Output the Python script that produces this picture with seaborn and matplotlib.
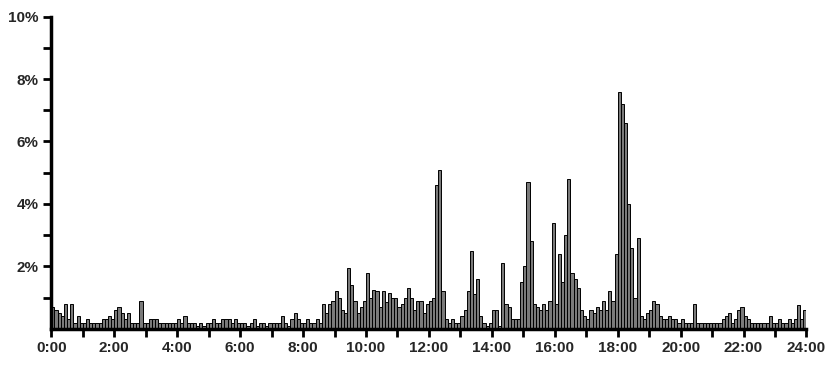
import numpy as np
import pandas as pd
import matplotlib
matplotlib.use("Agg")
import matplotlib.pyplot as plt
from matplotlib.ticker import FixedLocator
import seaborn as sns

# share of events per 6-minute slot (%), one row per hour of the day
hour_00 = [0.7, 0.6, 0.5, 0.4, 0.8, 0.3, 0.8, 0.2, 0.4, 0.2]
hour_01 = [0.2, 0.3, 0.2, 0.2, 0.2, 0.2, 0.3, 0.3, 0.4, 0.3]
hour_02 = [0.6, 0.7, 0.5, 0.3, 0.5, 0.2, 0.2, 0.2, 0.9, 0.2]
hour_03 = [0.2, 0.3, 0.3, 0.3, 0.2, 0.2, 0.2, 0.2, 0.2, 0.2]
hour_04 = [0.3, 0.2, 0.4, 0.2, 0.2, 0.2, 0.1, 0.2, 0.1, 0.2]
hour_05 = [0.2, 0.3, 0.2, 0.2, 0.3, 0.3, 0.3, 0.2, 0.3, 0.2]
hour_06 = [0.2, 0.2, 0.1, 0.2, 0.3, 0.1, 0.2, 0.2, 0.1, 0.2]
hour_07 = [0.2, 0.2, 0.2, 0.4, 0.2, 0.1, 0.3, 0.5, 0.3, 0.2]
hour_08 = [0.2, 0.3, 0.2, 0.2, 0.3, 0.2, 0.8, 0.5, 0.8, 0.9]
hour_09 = [1.2, 1.0, 0.6, 0.5, 1.95, 1.4, 0.9, 0.5, 0.7, 0.9]
hour_10 = [1.8, 1.0, 1.25, 1.2, 0.7, 1.2, 0.85, 1.15, 1.0, 1.0]
hour_11 = [0.7, 0.8, 1.0, 1.3, 1.0, 0.6, 0.9, 0.9, 0.5, 0.8]
hour_12 = [0.9, 1.0, 4.6, 5.1, 1.2, 0.3, 0.2, 0.3, 0.2, 0.2]
hour_13 = [0.4, 0.6, 1.2, 2.5, 1.1, 1.6, 0.4, 0.2, 0.1, 0.2]
hour_14 = [0.6, 0.6, 0.1, 2.1, 0.8, 0.7, 0.3, 0.3, 0.3, 1.5]
hour_15 = [2.0, 4.7, 2.8, 0.8, 0.7, 0.6, 0.8, 0.6, 0.9, 3.4]
hour_16 = [0.8, 2.4, 1.5, 3.0, 4.8, 1.8, 1.6, 1.3, 0.6, 0.4]
hour_17 = [0.3, 0.6, 0.5, 0.7, 0.6, 0.9, 0.6, 1.2, 0.9, 2.4]
hour_18 = [7.6, 7.2, 6.6, 4.0, 2.6, 1.0, 2.9, 0.4, 0.3, 0.5]
hour_19 = [0.6, 0.9, 0.8, 0.4, 0.3, 0.3, 0.4, 0.3, 0.3, 0.2]
hour_20 = [0.3, 0.2, 0.2, 0.2, 0.8, 0.2, 0.2, 0.2, 0.2, 0.2]
hour_21 = [0.2, 0.2, 0.2, 0.3, 0.4, 0.5, 0.2, 0.3, 0.6, 0.7]
hour_22 = [0.4, 0.3, 0.2, 0.2, 0.2, 0.2, 0.2, 0.2, 0.4, 0.2]
hour_23 = [0.2, 0.3, 0.2, 0.2, 0.3, 0.2, 0.3, 0.75, 0.3, 0.6]

hours = [hour_00, hour_01, hour_02, hour_03, hour_04, hour_05, hour_06, hour_07,
         hour_08, hour_09, hour_10, hour_11, hour_12, hour_13, hour_14, hour_15,
         hour_16, hour_17, hour_18, hour_19, hour_20, hour_21, hour_22, hour_23]

y_ticks = [2, 4, 6, 8, 10]
y_labels = ["2%", "4%", "6%", "8%", "10%"]
x_ticks = list(range(0, 25, 2))
x_labels = [f"{h}:00" for h in x_ticks]

share = np.concatenate(hours)
slot_mid = (np.arange(len(share)) + 0.5) * 24 / len(share)
df = pd.DataFrame({"time": slot_mid, "share": share})

sns.set_style("white")
plt.rcParams["font.family"] = ["Liberation Sans", "DejaVu Sans"]

fig = plt.figure(figsize=(8.28, 3.77), dpi=100)
ax = fig.add_axes([0.062, 0.128, 0.912, 0.828])

sns.histplot(data=df, x="time", weights="share", bins=len(share), binrange=(0, 24),
             color="#7a7a7a", edgecolor="#000000", linewidth=0.7, alpha=1, ax=ax)

ax.set_xlim(0, 24)
ax.set_ylim(0, 10)
ax.set_xlabel("")
ax.set_ylabel("")

ax.xaxis.set_major_locator(FixedLocator(x_ticks))
ax.xaxis.set_minor_locator(FixedLocator(range(1, 24, 2)))
ax.set_xticklabels(x_labels, fontsize=11, fontweight="bold")
ax.yaxis.set_major_locator(FixedLocator(y_ticks))
ax.yaxis.set_minor_locator(FixedLocator(range(1, 10, 2)))
ax.set_yticklabels(y_labels, fontsize=11, fontweight="bold")

ax.tick_params(axis="both", which="both", direction="out", length=6, width=2,
               color="black", bottom=True, left=True)
ax.tick_params(axis="x", pad=3)
ax.tick_params(axis="y", pad=3)

sns.despine(ax=ax)
for side in ("left", "bottom"):
    ax.spines[side].set_linewidth(2.5)
    ax.spines[side].set_color("black")

fig.savefig("out.png", dpi=100)
